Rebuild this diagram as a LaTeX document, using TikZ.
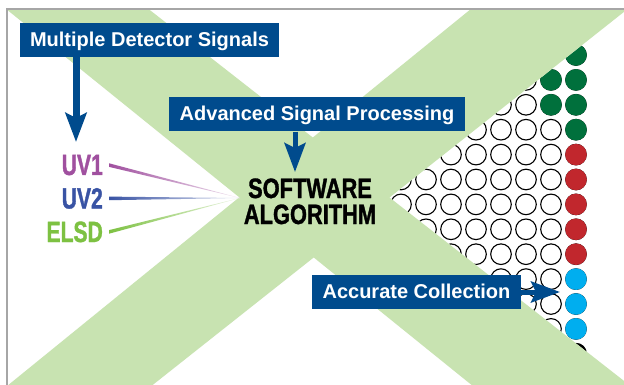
\documentclass[tikz,border=0pt]{standalone}
\usepackage{fontspec}
\setmainfont{Liberation Sans}
\newfontfamily\labelfont[FakeStretch=0.72,FakeBold=1.2]{Liberation Sans}
\newfontfamily\algofont[FakeStretch=0.78,FakeBold=1.2]{Liberation Sans}
\usetikzlibrary{arrows.meta,calc}
\definecolor{boxblue}{HTML}{004B8D}
\definecolor{bandgreen}{HTML}{C8E3B1}
\definecolor{dotgreen}{HTML}{00703C}
\definecolor{dotred}{HTML}{C1272D}
\definecolor{dotcyan}{HTML}{00AEEF}
\definecolor{uvone}{HTML}{A0509F}
\definecolor{uvtwo}{HTML}{3953A4}
\definecolor{elsdgreen}{HTML}{7DC142}
\definecolor{framegray}{HTML}{A6A6A6}
\tikzset{
  bluebox/.style={fill=boxblue, text=white,
    font=\fontsize{20}{24}\selectfont\bfseries,
    inner xsep=10.5pt, inner ysep=0pt, minimum height=34pt,
    text height=16pt, text depth=3pt},
  detlabel/.style={font=\labelfont\fontsize{29.3}{30}\selectfont\bfseries,
    inner xsep=6pt, inner ysep=0pt, anchor=base east},
  algotext/.style={font=\algofont\fontsize{28}{28}\selectfont\bfseries,
    inner sep=0pt, anchor=base},
  bigarrow/.style={draw=boxblue, line width=#1,
    -{Stealth[length=29pt,width=21pt,inset=5pt]}},
  well/.style={draw=black, line width=1.1pt, fill=white}
}

\begin{document}
\begin{tikzpicture}[x=1pt,y=-1pt]

\useasboundingbox (0,0) rectangle (624,385);
\fill[white] (0,0) rectangle (624,385);

% the plate of wells, only seen in the right triangle
\begin{scope}
  \clip (389.7,197.5) -- (639,0) -- (700,0) -- (700,395) -- (642,395) -- cycle;
  \foreach \col in {0,...,8}
    \foreach \row in {0,...,12}
      \draw[well] ({576-25*\col},{55+24.9*\row}) circle (10.3pt);
  \foreach \row/\c in {0/dotgreen,1/dotgreen,2/dotgreen,3/dotgreen,
                       4/dotred,5/dotred,6/dotred,7/dotred,8/dotred,
                       9/dotcyan,10/dotcyan,11/dotcyan,12/black}
    \fill[\c] (576,{55+24.9*\row}) circle (10.8pt);
  \foreach \row in {1,2}
    \fill[dotgreen] (551,{55+24.9*\row}) circle (10.8pt);
\end{scope}

% the green X
\begin{scope}
  \clip (7,9) rectangle (624,385);
  \fill[bandgreen] (-5,0) -- (137,0) -- (642,395) -- (484,395) -- cycle;
  \fill[bandgreen] (482,0) -- (639,0) -- (140,395) -- (-4,395) -- cycle;
\end{scope}

% frame
\draw[framegray, line width=1.5pt] (7,385) -- (7,9) -- (624,9);

% detector signals
\coordinate (conv) at (240,198);
\node[detlabel, text=uvone]     (uv1)  at (109,175)   {UV1};
\node[detlabel, text=uvtwo]     (uv2)  at (109,208.5) {UV2};
\node[detlabel, text=elsdgreen] (elsd) at (109,242)   {ELSD};

\shade[left color=uvone, right color=uvone!15]
  ($(uv1.east)+(0,-1.8)$) -- (conv) -- ($(uv1.east)+(0,1.8)$) -- cycle;
\shade[left color=uvtwo, right color=uvtwo!15]
  ($(uv2.east)+(0,-1.8)$) -- (conv) -- ($(uv2.east)+(0,1.8)$) -- cycle;
\shade[left color=elsdgreen, right color=elsdgreen!15]
  ($(elsd.east)+(0,-1.8)$) -- (conv) -- ($(elsd.east)+(0,1.8)$) -- cycle;

% software
\node[algotext] (soft) at (310,198) {SOFTWARE};
\node[algotext] (algo) at (310,224) {ALGORITHM};

% the blue call-outs
\node[bluebox] (detbox)  at (149.5,40)  {Multiple Detector Signals};
\node[bluebox] (procbox) at (317,114.5) {Advanced Signal Processing};
\node[bluebox] (colbox)  at (416.5,292) {Accurate Collection};

\coordinate (sigtip) at (76,142);
\coordinate (algtip) at (295,172);
\coordinate (coltip) at (560,292);

\draw[bigarrow=7pt] (detbox.south -| sigtip) -- (sigtip);
\draw[bigarrow=5pt] (procbox.south -| algtip) -- (algtip);
\draw[bigarrow=5pt] (colbox.east) -- (coltip);

\end{tikzpicture}
\end{document}
